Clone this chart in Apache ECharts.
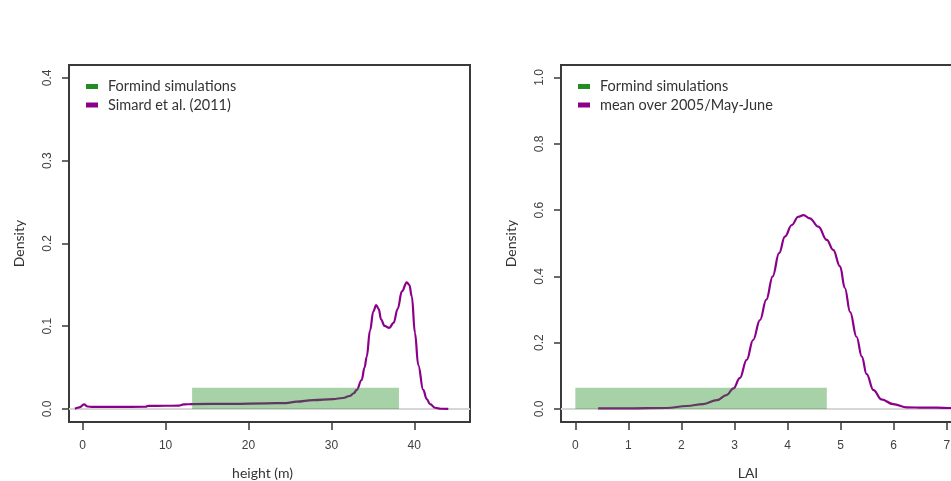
<!DOCTYPE html>
<html>
<head>
<meta charset="utf-8">
<script src="https://cdn.jsdelivr.net/npm/echarts@6.0.0/dist/echarts.min.js"></script>
<style>
  html, body { margin: 0; padding: 0; background: #fff; }
  #chart { width: 951px; height: 481px; }
</style>
</head>
<body>
<div id="chart"></div>
<script>
// 树高密度 (left panel)
var heightX = [-0.93, -0.4, 0.16, 0.6, 1.2, 4, 7.6, 7.9, 10, 11.6, 12.2, 13, 18, 22.2, 24.5, 25.8, 27.8, 30.2, 31.4, 32.2, 32.7, 33.05, 33.65, 34.0, 34.26, 34.66, 35.06, 35.4, 35.7, 36.0, 36.4, 36.98, 37.5, 38.0, 38.5, 39.1, 39.4, 39.7, 40.08, 40.48, 41.08, 41.5, 41.9, 42.5, 43.2, 44.1];
var heightDensity = [0.0003, 0.002, 0.0055, 0.003, 0.0025, 0.0025, 0.0027, 0.0038, 0.0039, 0.004, 0.0055, 0.006, 0.0062, 0.0068, 0.0072, 0.0088, 0.0108, 0.012, 0.0133, 0.0157, 0.019, 0.023, 0.035, 0.05, 0.063, 0.095, 0.118, 0.1256, 0.121, 0.108, 0.1005, 0.098, 0.104, 0.121, 0.142, 0.153, 0.15, 0.136, 0.092, 0.053, 0.023, 0.012, 0.006, 0.0015, 0.0003, 0.0002];
// Formind 模拟范围: [起点, 终点, 密度]
var formindHeight = [13.2, 38.15, 0.0257];

// LAI 密度 (right panel)
var laiX = [0.43, 1.0, 1.72, 2.1, 2.41, 2.67, 2.85, 2.98, 3.1, 3.23, 3.35, 3.48, 3.6, 3.72, 3.84, 3.95, 4.08, 4.2, 4.3, 4.42, 4.58, 4.74, 4.86, 4.99, 5.08, 5.18, 5.3, 5.4, 5.49, 5.62, 5.77, 5.99, 6.25, 6.56, 6.81, 7.08, 7.3];
var laiDensity = [0.002, 0.002, 0.003, 0.009, 0.015, 0.027, 0.042, 0.062, 0.093, 0.148, 0.208, 0.268, 0.33, 0.4, 0.47, 0.52, 0.555, 0.58, 0.585, 0.575, 0.55, 0.51, 0.48, 0.43, 0.365, 0.292, 0.218, 0.158, 0.105, 0.057, 0.029, 0.015, 0.005, 0.004, 0.004, 0.003, 0.003];
var formindLai = [0, 4.74, 0.064];

// 刻度: [起, 止, 间隔]
var heightTicks = [0, 40, 10];
var heightYTicks = [0, 0.4, 0.1];
var laiTicks = [0, 7, 1];
var laiYTicks = [0, 1.0, 0.2];

// 边框范围 (R 风格 4% 外扩)
var heightXRange = [-1.65, 46.72];
var heightYRange = [-0.0157, 0.4155];
var laiXRange = [-0.27, 7.156];
var laiYRange = [-0.0392, 1.0377];

var PURPLE = '#8B008B';
var GREEN = '#228B22';
var AXIS = '#3a3a3a';
var TOP = 65, BOX_H = 357;
var BOX_L = [69, 561], BOX_W = [401, 394];

function pairs(xs, ys) {
  return xs.map(function (x, i) { return [x, ys[i]]; });
}

// 数值 -> 边框内像素 (只用于摆放刻度网格)
function xPx(v, range, p) { return BOX_L[p] + (v - range[0]) / (range[1] - range[0]) * BOX_W[p]; }
function yPx(v, range) { return TOP + (range[1] - v) / (range[1] - range[0]) * BOX_H; }

function rectItem(params, api) {
  var p0 = api.coord([api.value(0), 0]);
  var p1 = api.coord([api.value(1), api.value(2)]);
  return {
    type: 'rect',
    shape: { x: p0[0], y: p1[1], width: p1[0] - p0[0], height: p0[1] - p1[1] },
    style: { fill: 'rgba(34,139,34,0.4)' }
  };
}

var tickFont = { fontFamily: 'Liberation Sans', fontSize: 12, color: '#404040' };
var nameFont = { fontFamily: 'Lato', fontSize: 14, color: '#333' };

function mainX(idx, range, name, shift) {
  return {
    type: 'value', gridIndex: idx, min: range[0], max: range[1],
    name: name, nameLocation: 'middle', nameGap: 44,
    nameTextStyle: Object.assign({ padding: [0, shift, 0, 0] }, nameFont),
    axisLine: { show: false }, axisTick: { show: false }, axisLabel: { show: false }, splitLine: { show: false }
  };
}
function mainY(idx, range) {
  return {
    type: 'value', gridIndex: idx, min: range[0], max: range[1],
    name: 'Density', nameLocation: 'middle', nameGap: 43, nameTextStyle: nameFont,
    axisLine: { show: false }, axisTick: { show: false }, axisLabel: { show: false }, splitLine: { show: false }
  };
}
function hiddenAxis(idx) {
  return { type: 'value', gridIndex: idx, min: 0, max: 1, show: false };
}
function tickX(idx, t) {
  return {
    type: 'value', gridIndex: idx, min: t[0], max: t[1], interval: t[2],
    axisLine: { show: false, onZero: false },
    axisTick: { show: true, length: 8, lineStyle: { color: AXIS, width: 1.5 } },
    axisLabel: Object.assign({ margin: 18 }, tickFont),
    splitLine: { show: false }
  };
}
function tickY(idx, t) {
  return {
    type: 'value', gridIndex: idx, min: t[0], max: t[1], interval: t[2],
    axisLine: { show: false, onZero: false },
    axisTick: { show: true, length: 7, lineStyle: { color: AXIS, width: 1.5 } },
    axisLabel: Object.assign({ margin: 15, rotate: 90, formatter: function (v) { return v.toFixed(1); } }, tickFont),
    splitLine: { show: false }
  };
}

function legendOpt(left, names) {
  return {
    orient: 'vertical', left: left, top: 79, padding: 0, icon: 'rect',
    itemWidth: 12, itemHeight: 5, itemGap: 3.5,
    textStyle: { fontFamily: 'Lato', fontSize: 14.5, lineHeight: 15, color: '#333', padding: [0, 0, 0, 5] },
    data: names
  };
}

var ob = { outerBoundsMode: 'none', containLabel: false };
function xTickGrid(t, range, p) {
  var a = xPx(t[0], range, p), b = xPx(t[1], range, p);
  return Object.assign({ left: a, width: b - a, top: TOP, height: BOX_H }, ob);
}
function yTickGrid(t, range, p) {
  var a = yPx(t[1], range), b = yPx(t[0], range);
  return Object.assign({ left: BOX_L[p], width: 50, top: a, height: b - a }, ob);
}

var chart = echarts.init(document.getElementById('chart'), null, { renderer: 'canvas' });

var option = {
  animation: false,
  backgroundColor: '#fff',
  grid: [
    Object.assign({ left: BOX_L[0], top: TOP, width: BOX_W[0], height: BOX_H, show: true, borderColor: AXIS, borderWidth: 2 }, ob),
    Object.assign({ left: BOX_L[1], top: TOP, width: BOX_W[1], height: BOX_H, show: true, borderColor: AXIS, borderWidth: 2 }, ob),
    xTickGrid(heightTicks, heightXRange, 0),
    xTickGrid(laiTicks, laiXRange, 1),
    yTickGrid(heightYTicks, heightYRange, 0),
    yTickGrid(laiYTicks, laiYRange, 1)
  ],
  legend: [
    legendOpt(86, ['Formind simulations', 'Simard et al. (2011)']),
    legendOpt(578, ['Formind simulations', 'mean over 2005/May-June'])
  ],
  xAxis: [
    mainX(0, heightXRange, 'height (m)', 14),
    mainX(1, laiXRange, 'LAI', 20),
    tickX(2, heightTicks),
    tickX(3, laiTicks),
    hiddenAxis(4),
    hiddenAxis(5)
  ],
  yAxis: [
    mainY(0, heightYRange),
    mainY(1, laiYRange),
    hiddenAxis(2),
    hiddenAxis(3),
    tickY(4, heightYTicks),
    tickY(5, laiYTicks)
  ],
  series: [
    {
      name: 'zero-left', type: 'line', xAxisIndex: 0, yAxisIndex: 0, z: 1,
      showSymbol: false, silent: true,
      data: [[heightXRange[0], 0], [heightXRange[1], 0]],
      lineStyle: { color: '#d6d6d6', width: 2 }
    },
    {
      name: 'Simard et al. (2011)', type: 'line', xAxisIndex: 0, yAxisIndex: 0, z: 2,
      showSymbol: false, smooth: 0.4, smoothMonotone: 'x', color: PURPLE,
      data: pairs(heightX, heightDensity),
      lineStyle: { color: PURPLE, width: 2.2 }
    },
    {
      name: 'Formind simulations', type: 'custom', xAxisIndex: 0, yAxisIndex: 0, z: 3,
      color: GREEN, renderItem: rectItem, encode: { x: [0, 1], y: 2 },
      data: [formindHeight]
    },
    {
      name: 'zero-right', type: 'line', xAxisIndex: 1, yAxisIndex: 1, z: 1,
      showSymbol: false, silent: true,
      data: [[laiXRange[0], 0], [laiXRange[1], 0]],
      lineStyle: { color: '#d6d6d6', width: 2 }
    },
    {
      name: 'mean over 2005/May-June', type: 'line', xAxisIndex: 1, yAxisIndex: 1, z: 2,
      showSymbol: false, smooth: 0.4, smoothMonotone: 'x', color: PURPLE,
      data: pairs(laiX, laiDensity),
      lineStyle: { color: PURPLE, width: 2.2 }
    },
    {
      name: 'Formind simulations', type: 'custom', xAxisIndex: 1, yAxisIndex: 1, z: 3,
      color: GREEN, renderItem: rectItem, encode: { x: [0, 1], y: 2 },
      data: [formindLai]
    }
  ]
};

chart.setOption(option);
</script>
</body>
</html>
